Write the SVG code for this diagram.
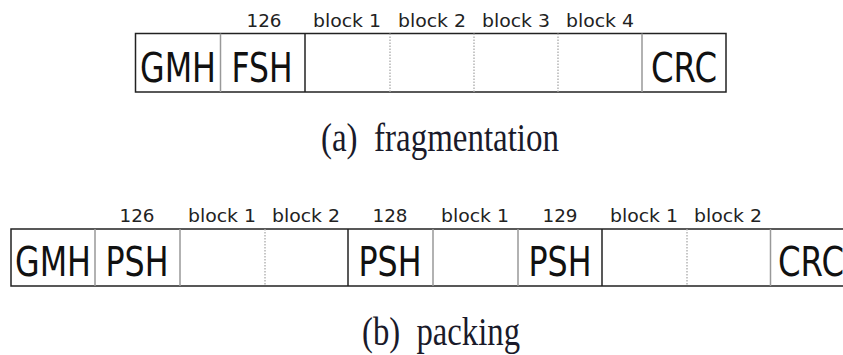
<svg xmlns="http://www.w3.org/2000/svg" width="843" height="355" viewBox="0 0 843 355">
<style>
.frame{fill:none;stroke:#222;stroke-width:1.5}
.gray{stroke:#999;stroke-width:1.5}
.blk{stroke:#222;stroke-width:1.5}
.dot{stroke:#aaa;stroke-width:1.3;stroke-dasharray:1.5 1.5}
.sm{font-family:"DejaVu Sans",sans-serif;font-size:17.5px;fill:#222;text-anchor:middle}
.big{font-family:"DejaVu Sans",sans-serif;font-size:40px;fill:#111;text-anchor:middle}
.cap{font-family:"Liberation Serif",serif;font-size:40px;fill:#1a1a2a;text-anchor:middle}
</style>
<rect width="843" height="355" fill="#fff"/>
<g id="frag">
  <rect class="frame" x="135.5" y="33.5" width="590.5" height="58.5"/>
  <g id="a-gmh"><text class="big" x="178" y="81.5" textLength="76" lengthAdjust="spacingAndGlyphs">GMH</text></g>
  <line class="gray" x1="220.5" y1="33.5" x2="220.5" y2="92"/>
  <g id="a-fsh"><text class="sm" x="264" y="27.3" textLength="35" lengthAdjust="spacingAndGlyphs">126</text><text class="big" x="262" y="81.5" textLength="61" lengthAdjust="spacingAndGlyphs">FSH</text></g>
  <line class="blk" x1="305" y1="33.5" x2="305" y2="92"/>
  <g id="a-b1"><text class="sm" x="347" y="27.3" textLength="68" lengthAdjust="spacingAndGlyphs">block 1</text></g>
  <line class="dot" x1="390" y1="33.5" x2="390" y2="92"/>
  <g id="a-b2"><text class="sm" x="432" y="27.3" textLength="68" lengthAdjust="spacingAndGlyphs">block 2</text></g>
  <line class="dot" x1="474" y1="33.5" x2="474" y2="92"/>
  <g id="a-b3"><text class="sm" x="516" y="27.3" textLength="68" lengthAdjust="spacingAndGlyphs">block 3</text></g>
  <line class="dot" x1="558" y1="33.5" x2="558" y2="92"/>
  <g id="a-b4"><text class="sm" x="600" y="27.3" textLength="68" lengthAdjust="spacingAndGlyphs">block 4</text></g>
  <line class="gray" x1="642" y1="33.5" x2="642" y2="92"/>
  <g id="a-crc"><text class="big" x="684" y="81.5" textLength="66" lengthAdjust="spacingAndGlyphs">CRC</text></g>
</g>
<text class="cap" x="440" y="151" textLength="238" lengthAdjust="spacingAndGlyphs">(a)&#160; fragmentation</text>
<g id="pack">
  <path class="frame" d="M843,229 H11 V286 H843"/>
  <g id="b-gmh"><text class="big" x="53" y="275.5" textLength="76" lengthAdjust="spacingAndGlyphs">GMH</text></g>
  <line class="gray" x1="95" y1="229" x2="95" y2="286"/>
  <g id="b-psh1"><text class="sm" x="137" y="222" textLength="35" lengthAdjust="spacingAndGlyphs">126</text><text class="big" x="137" y="275.5" textLength="63" lengthAdjust="spacingAndGlyphs">PSH</text></g>
  <line class="gray" x1="180" y1="229" x2="180" y2="286"/>
  <g id="b-b1"><text class="sm" x="222" y="222" textLength="68" lengthAdjust="spacingAndGlyphs">block 1</text></g>
  <line class="dot" x1="265" y1="229" x2="265" y2="286"/>
  <g id="b-b2"><text class="sm" x="306" y="222" textLength="68" lengthAdjust="spacingAndGlyphs">block 2</text></g>
  <line class="blk" x1="348" y1="229" x2="348" y2="286"/>
  <g id="b-psh2"><text class="sm" x="390" y="222" textLength="35" lengthAdjust="spacingAndGlyphs">128</text><text class="big" x="390" y="275.5" textLength="63" lengthAdjust="spacingAndGlyphs">PSH</text></g>
  <line class="gray" x1="433" y1="229" x2="433" y2="286"/>
  <g id="b-b3"><text class="sm" x="475" y="222" textLength="68" lengthAdjust="spacingAndGlyphs">block 1</text></g>
  <line class="gray" x1="518" y1="229" x2="518" y2="286"/>
  <g id="b-psh3"><text class="sm" x="560" y="222" textLength="35" lengthAdjust="spacingAndGlyphs">129</text><text class="big" x="560" y="275.5" textLength="63" lengthAdjust="spacingAndGlyphs">PSH</text></g>
  <line class="blk" x1="602" y1="229" x2="602" y2="286"/>
  <g id="b-b4"><text class="sm" x="644" y="222" textLength="68" lengthAdjust="spacingAndGlyphs">block 1</text></g>
  <line class="dot" x1="687" y1="229" x2="687" y2="286"/>
  <g id="b-b5"><text class="sm" x="728" y="222" textLength="68" lengthAdjust="spacingAndGlyphs">block 2</text></g>
  <line class="gray" x1="770.5" y1="229" x2="770.5" y2="286"/>
  <g id="b-crc"><text class="big" x="811" y="275.5" textLength="66" lengthAdjust="spacingAndGlyphs">CRC</text></g>
</g>
<text class="cap" x="441" y="345" textLength="158" lengthAdjust="spacingAndGlyphs">(b)&#160; packing</text>
</svg>
